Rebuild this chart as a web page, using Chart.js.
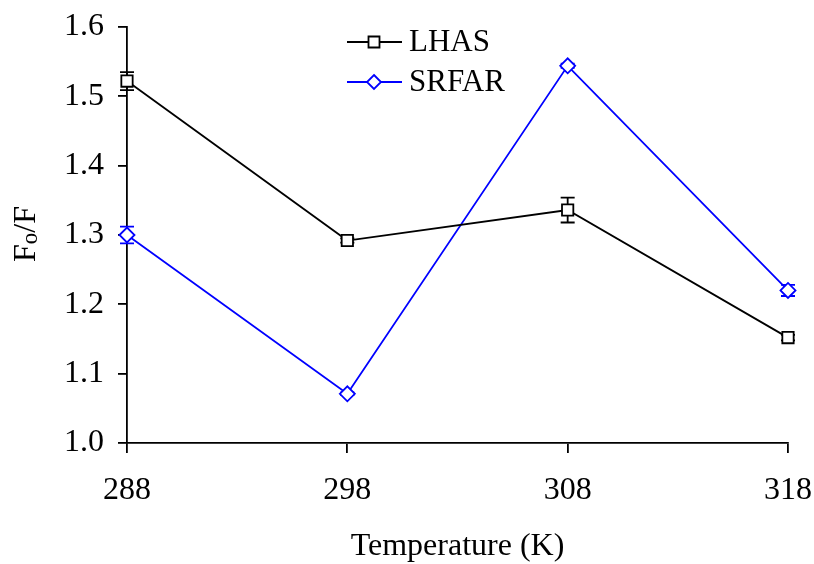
<!DOCTYPE html>
<html>
<head>
<meta charset="utf-8">
<script src="https://cdn.jsdelivr.net/npm/chart.js@4"></script>
<style>
html,body{margin:0;padding:0;background:#fff;}
#wrap{width:814px;height:564px;position:relative;}
</style>
</head>
<body>
<div id="wrap"><canvas id="c" width="814" height="564"></canvas></div>
<script>
const temperatures = [288, 298, 308, 318];
const lhas = [1.522, 1.292, 1.336, 1.152];
const lhasErr = [0.013, 0.003, 0.018, 0.004];
const srfar = [1.300, 1.071, 1.544, 1.220];
const srfarErr = [0.012, 0.002, 0.003, 0.008];
const yTicks = [1.0, 1.1, 1.2, 1.3, 1.4, 1.5, 1.6];
const seriesNames = ['LHAS', 'SRFAR'];

const FONT = '"Liberation Serif", "Times New Roman", serif';

function pts(vals){ return temperatures.map((t,i)=>({x:t,y:vals[i]})); }

const errorBars = {
  id:'errorBars',
  beforeDatasetsDraw(chart){
    const ctx = chart.ctx, xs = chart.scales.x, ys = chart.scales.y;
    chart.data.datasets.forEach(ds=>{
      ctx.save();
      ctx.strokeStyle = ds.borderColor; ctx.lineWidth = 1.8;
      ds.data.forEach((p,i)=>{
        const e = ds.errors[i];
        const x = xs.getPixelForValue(p.x);
        const y1 = ys.getPixelForValue(p.y+e), y2 = ys.getPixelForValue(p.y-e);
        ctx.beginPath();
        ctx.moveTo(x,y1); ctx.lineTo(x,y2);
        ctx.moveTo(x-7,y1); ctx.lineTo(x+7,y1);
        ctx.moveTo(x-7,y2); ctx.lineTo(x+7,y2);
        ctx.stroke();
      });
      ctx.restore();
    });
  }
};

const customText = {
  id:'customText',
  afterDraw(chart){
    const ctx = chart.ctx;
    // y axis title F_o/F
    ctx.save();
    ctx.translate(35, 234);
    ctx.rotate(-Math.PI/2);
    ctx.fillStyle = '#000';
    ctx.textBaseline = 'alphabetic';
    ctx.font = '32px ' + FONT;
    const wF = ctx.measureText('F').width;
    ctx.font = '23px ' + FONT;
    const wo = ctx.measureText('o').width;
    ctx.font = '32px ' + FONT;
    const wRest = ctx.measureText('/F').width;
    const total = wF + wo + wRest;
    let x = -total/2;
    ctx.fillText('F', x, 0); x += wF;
    ctx.font = '23px ' + FONT;
    ctx.fillText('o', x, 2); x += wo;
    ctx.font = '32px ' + FONT;
    ctx.fillText('/F', x, 0);
    ctx.restore();

    // legend
    const items = chart.data.datasets;
    items.forEach((ds,i)=>{
      const y = 42 + i*40;
      ctx.save();
      ctx.strokeStyle = ds.borderColor; ctx.lineWidth = 1.8;
      ctx.beginPath(); ctx.moveTo(347,y); ctx.lineTo(402,y); ctx.stroke();
      ctx.fillStyle = '#fff';
      ctx.beginPath();
      if (ds.pointStyle === 'rect') {
        ctx.rect(374-5.5, y-5.5, 11, 11);
      } else {
        ctx.moveTo(374, y-7); ctx.lineTo(381, y); ctx.lineTo(374, y+7); ctx.lineTo(367, y); ctx.closePath();
      }
      ctx.fill(); ctx.stroke();
      ctx.fillStyle = '#000';
      ctx.font = '31px ' + FONT;
      ctx.textBaseline = 'middle';
      ctx.fillText(seriesNames[i], 409, y+1);
      ctx.restore();
    });
  }
};

new Chart(document.getElementById('c'), {
  type:'line',
  data:{
    datasets:[
      {label:seriesNames[0], data:pts(lhas), errors:lhasErr, borderColor:'#000000', backgroundColor:'#ffffff',
       borderWidth:1.8, pointStyle:'rect', pointRadius:8, pointBorderWidth:1.8, pointBackgroundColor:'#ffffff', tension:0, clip:false},
      {label:seriesNames[1], data:pts(srfar), errors:srfarErr, borderColor:'#0000ff', backgroundColor:'#ffffff',
       borderWidth:1.8, pointStyle:'rectRot', pointRadius:7.5, pointBorderWidth:1.8, pointBackgroundColor:'#ffffff', tension:0, clip:false}
    ]
  },
  options:{
    responsive:false, animation:false, devicePixelRatio:1,
    layout:{padding:{top:27,right:26,left:0,bottom:0}},
    plugins:{legend:{display:false}, tooltip:{enabled:false}},
    scales:{
      x:{type:'linear', min:288, max:318,
        afterBuildTicks(s){ s.ticks = temperatures.map(v=>({value:v})); },
        afterFit(s){ s.height = 121; s.paddingLeft = 0; s.paddingRight = 0; },
        grid:{drawOnChartArea:false, drawTicks:true, tickLength:10, color:'#000', lineWidth:1.8},
        border:{display:true, color:'#000', width:1.8},
        ticks:{color:'#000', font:{family:FONT, size:32}, padding:18, maxRotation:0},
        title:{display:true, text:'Temperature (K)', color:'#000', font:{family:FONT, size:32, lineHeight:1.1}, padding:{top:10, bottom:0}}
      },
      y:{type:'linear', min:1.0, max:1.6,
        afterBuildTicks(s){ s.ticks = yTicks.map(v=>({value:v})); },
        afterFit(s){ s.width = 127; s.paddingTop = 0; s.paddingBottom = 0; },
        grid:{drawOnChartArea:false, drawTicks:true, tickLength:9, color:'#000', lineWidth:1.8},
        border:{display:true, color:'#000', width:1.8},
        ticks:{color:'#000', font:{family:FONT, size:32}, padding:14, callback:v=>v.toFixed(1)}
      }
    }
  },
  plugins:[errorBars, customText]
});
</script>
</body>
</html>
